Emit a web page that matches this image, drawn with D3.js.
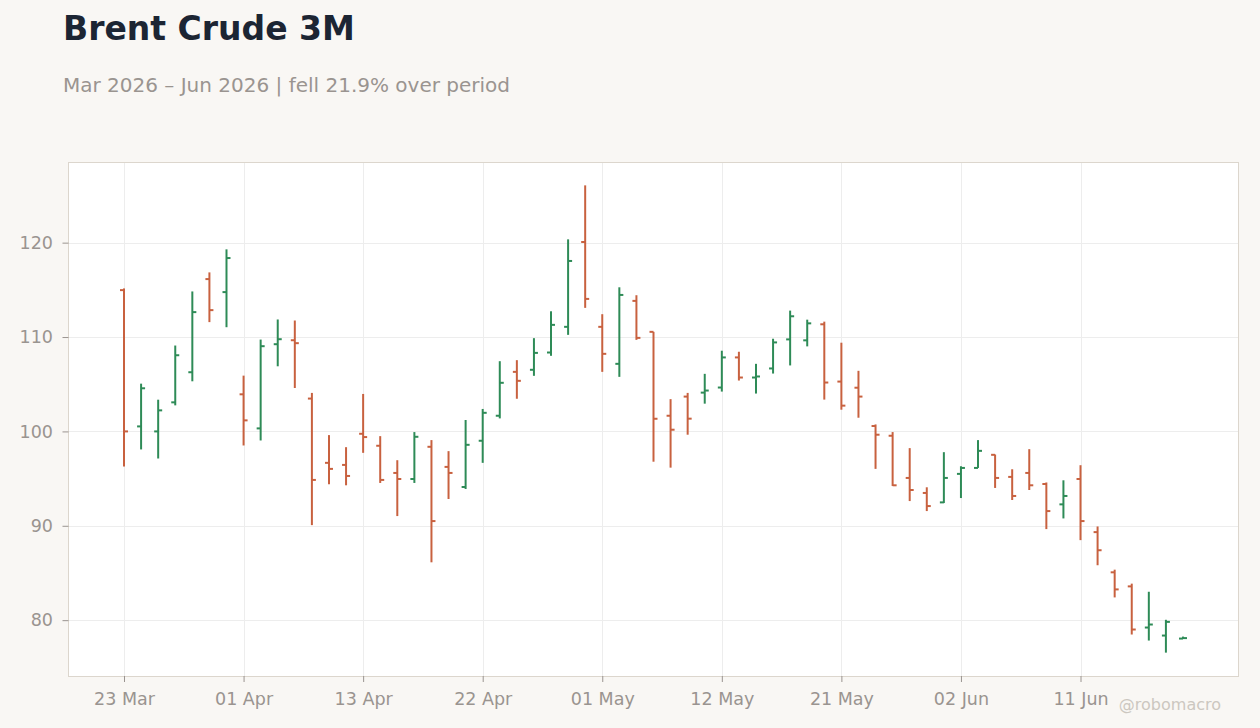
<!DOCTYPE html>
<html>
<head>
<meta charset="utf-8">
<script src="https://cdn.jsdelivr.net/npm/d3@7/dist/d3.min.js"></script>
<style>
  html, body { margin: 0; padding: 0; background: #f9f7f4; }
  svg { display: block; font-family: "DejaVu Sans", sans-serif; }
</style>
</head>
<body>
<svg id="chart" width="1260" height="728"></svg>
<script>
const dates = [
  "2026-03-23","2026-03-24","2026-03-25","2026-03-26","2026-03-27","2026-03-30","2026-03-31",
  "2026-04-01","2026-04-02","2026-04-06","2026-04-07","2026-04-08","2026-04-09","2026-04-10",
  "2026-04-13","2026-04-14","2026-04-15","2026-04-16","2026-04-17","2026-04-20","2026-04-21",
  "2026-04-22","2026-04-23","2026-04-24","2026-04-27","2026-04-28","2026-04-29","2026-04-30",
  "2026-05-01","2026-05-04","2026-05-05","2026-05-06","2026-05-07","2026-05-08","2026-05-11",
  "2026-05-12","2026-05-13","2026-05-14","2026-05-15","2026-05-18","2026-05-19","2026-05-20",
  "2026-05-21","2026-05-22","2026-05-26","2026-05-27","2026-05-28","2026-05-29","2026-06-01",
  "2026-06-02","2026-06-03","2026-06-04","2026-06-05","2026-06-08","2026-06-09","2026-06-10",
  "2026-06-11","2026-06-12","2026-06-15","2026-06-16","2026-06-17","2026-06-18","2026-06-19"
];
const open = [
  114.97,100.53,100.00,103.08,106.27,116.14,114.76,
  103.93,100.32,109.24,109.66,103.48,96.67,96.45,
  99.75,98.48,95.60,94.96,98.37,96.24,94.11,
  99.01,101.66,106.31,106.53,108.36,111.08,120.07,
  111.08,107.16,113.83,110.55,101.66,103.69,104.11,
  104.65,107.84,105.71,106.67,109.75,109.65,111.35,
  105.28,104.63,100.57,99.54,95.07,93.48,92.48,
  95.50,96.13,97.52,95.18,95.60,94.43,92.27,
  94.96,89.33,85.07,83.58,79.22,78.37,78.05
];
const high = [
  115.15,105.06,103.36,109.10,114.83,116.85,119.29,
  105.91,109.73,111.86,111.75,104.08,99.61,98.33,
  103.97,99.50,96.95,99.93,99.08,97.91,101.21,
  102.38,107.44,107.55,109.88,112.73,120.35,126.07,
  112.42,115.27,114.43,110.55,103.42,104.08,106.10,
  108.55,108.44,107.16,109.82,112.80,111.84,111.63,
  109.40,106.42,100.74,99.93,98.23,94.08,97.80,
  96.31,99.08,97.55,95.99,98.12,94.59,94.82,
  96.42,89.93,85.35,83.87,83.01,80.04,78.26
];
const low = [
  96.28,98.09,97.13,102.76,105.31,111.58,111.04,
  98.51,99.04,106.90,104.60,90.07,94.40,94.29,
  97.73,94.54,91.03,94.54,86.13,92.84,93.90,
  96.67,101.38,103.46,105.89,108.01,110.23,113.09,
  106.31,105.78,109.70,96.79,96.16,99.65,102.94,
  104.22,105.39,104.01,106.13,106.99,109.01,103.37,
  102.30,101.45,96.03,94.22,92.62,91.56,92.41,
  92.94,96.13,94.01,92.73,93.79,89.65,90.78,
  88.48,85.82,82.41,78.48,77.84,76.56,78.01
];
const close = [
  100.00,104.57,102.23,108.07,112.64,112.85,118.37,
  101.17,109.03,109.77,109.35,94.86,96.03,95.28,
  99.40,94.86,94.96,99.43,90.50,95.60,98.58,
  101.97,105.15,105.36,108.32,111.29,118.06,114.04,
  108.22,114.46,109.91,101.34,100.18,101.35,104.33,
  107.84,105.71,105.82,109.43,112.20,111.45,105.18,
  102.73,103.69,99.65,94.29,93.79,92.09,95.07,
  96.13,97.94,95.07,93.16,94.29,91.56,93.16,
  90.50,87.41,83.26,79.01,79.54,79.82,78.10
];
const yTicks = [80, 90, 100, 110, 120];
const tickEvery = 7;

const title = "Brent Crude 3M";
const subtitle = "Mar 2026 – Jun 2026 | fell 21.9% over period";
const credit = "@robomacro";

const UP = "#2e8b57", DOWN = "#c8613f";

const svg = d3.select("#chart");
const margin = {left: 68.5, top: 162, right: 21.5, bottom: 52};
const W = 1260, H = 728;
const iw = W - margin.left - margin.right;
const ih = H - margin.top - margin.bottom;

const parse = d3.timeParse("%Y-%m-%d");
const fmt = d3.timeFormat("%d %b");
const data = dates.map((d, i) => ({i, date: parse(d), o: open[i], h: high[i], l: low[i], c: close[i]}));

const n = data.length;
const pad = 3.25;
const x = d3.scaleLinear().domain([-pad, n - 1 + pad]).range([margin.left, margin.left + iw]);
const lo = d3.min(low), hi = d3.max(high);
const yp = (hi - lo) * 0.05;
const y = d3.scaleLinear().domain([lo - yp, hi + yp]).range([margin.top + ih, margin.top]);

// titles
svg.append("text").attr("x", 63).attr("y", 40)
  .attr("font-size", 33).attr("font-weight", "bold").attr("fill", "#1c2533").text(title);
svg.append("text").attr("x", 63).attr("y", 92)
  .attr("font-size", 20).attr("fill", "#9a9490").text(subtitle);

// plot background
svg.append("rect").attr("x", margin.left).attr("y", margin.top)
  .attr("width", iw).attr("height", ih).attr("fill", "#ffffff");

const tickIdx = data.filter(d => d.i % tickEvery === 0).map(d => d.i);

// gridlines
const grid = svg.append("g").attr("stroke", "#ededed").attr("stroke-width", 1);
grid.selectAll("line.h").data(yTicks).join("line")
  .attr("x1", margin.left).attr("x2", margin.left + iw)
  .attr("y1", d => Math.round(y(d)) + 0.5).attr("y2", d => Math.round(y(d)) + 0.5);
grid.selectAll("line.v").data(tickIdx).join("line")
  .attr("y1", margin.top).attr("y2", margin.top + ih)
  .attr("x1", d => Math.round(x(d)) + 0.5).attr("x2", d => Math.round(x(d)) + 0.5);

// frame
svg.append("rect").attr("x", margin.left).attr("y", margin.top + 0.5)
  .attr("width", iw).attr("height", ih).attr("fill", "none")
  .attr("stroke", "#dcd6cd").attr("stroke-width", 1);

// axes
const xAxis = d3.axisBottom(x).tickValues(tickIdx)
  .tickFormat(i => fmt(data[i].date)).tickSize(6).tickPadding(6);
const gx = svg.append("g").attr("transform", `translate(0,${margin.top + ih})`).call(xAxis);
const yAxis = d3.axisLeft(y).tickValues(yTicks).tickSize(6).tickPadding(9.5);
const gy = svg.append("g").attr("transform", `translate(${margin.left},0)`).call(yAxis);
[gx, gy].forEach(g => {
  g.select(".domain").remove();
  g.selectAll(".tick line").attr("stroke", "#9a9490");
  g.selectAll(".tick text").attr("fill", "#9a9490").attr("font-size", 17.5)
    .attr("font-family", "DejaVu Sans, sans-serif");
});
gx.selectAll(".tick text").attr("dy", "0.95em");

// OHLC bars
const bars = svg.append("g");
const tw = 4;
const bar = bars.selectAll("g.bar").data(data).join("g")
  .attr("stroke", d => d.c >= d.o ? UP : DOWN).attr("stroke-width", 2);
bar.append("line")
  .attr("x1", d => x(d.i)).attr("x2", d => x(d.i))
  .attr("y1", d => y(d.h)).attr("y2", d => y(d.l));
bar.append("line")
  .attr("x1", d => x(d.i) - tw).attr("x2", d => x(d.i))
  .attr("y1", d => y(d.o)).attr("y2", d => y(d.o));
bar.append("line")
  .attr("x1", d => x(d.i)).attr("x2", d => x(d.i) + tw)
  .attr("y1", d => y(d.c)).attr("y2", d => y(d.c));

// credit
svg.append("text").attr("x", 1221).attr("y", 710).attr("text-anchor", "end")
  .attr("font-size", 16).attr("fill", "#ccc7c0").text(credit);
</script>
</body>
</html>
